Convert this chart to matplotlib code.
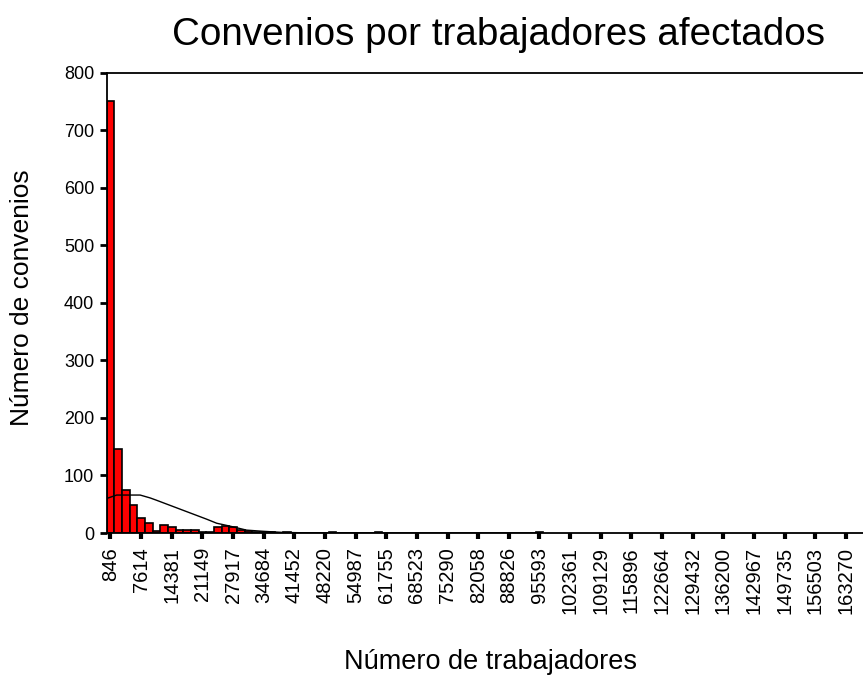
import numpy as np
import matplotlib
matplotlib.use("Agg")
import matplotlib.pyplot as plt

plt.rcParams['font.family'] = ['Liberation Sans', 'DejaVu Sans']

# histogram bins (number of workers), bin width
bin_width = 1691.92
first_center = 846
counts = [752, 146, 75, 49, 26, 17, 4, 14, 11, 6,
          6, 6, 2, 2, 10, 12, 11, 6, 3, 1,
          1, 2, 0, 2, 0, 0, 0, 0, 0, 2,
          0, 0, 0, 0, 0, 2, 0, 0, 0, 0,
          0, 0, 0, 0, 0, 0, 0, 0, 0, 0,
          0, 0, 0, 0, 0, 0, 2]

tick_labels = ["846", "7614", "14381", "21149", "27917", "34684", "41452",
               "48220", "54987", "61755", "68523", "75290", "82058", "88826",
               "95593", "102361", "109129", "115896", "122664", "129432",
               "136200", "142967", "149735", "156503", "163270"]

# fitted normal curve
curve_x = [0, 2200, 7400, 9600, 11000, 14700, 18400, 22100, 24300, 27200,
           30900, 34500, 38900, 45000, 60000]
curve_y = [60, 66, 66, 61, 57, 46, 35, 24, 17, 12, 5, 3, 1, 0.2, 0]

centers = first_center + bin_width * np.arange(len(counts))
tick_pos = first_center + 4 * bin_width * np.arange(len(tick_labels))

fig = plt.figure(figsize=(8.63, 6.77), dpi=100)
ax = fig.add_axes([0.1236, 0.2127, 0.8764, 0.6795])

ax.bar(centers, counts, width=bin_width, color='#ff0000',
       edgecolor='black', linewidth=1.2)
ax.plot(curve_x, curve_y, color='black', linewidth=1.0)

ax.set_xlim(0, 167060)
ax.set_ylim(0, 800)
ax.set_yticks(range(0, 801, 100))
ax.set_xticks(tick_pos)
ax.set_xticklabels(tick_labels, rotation=90, fontsize=14.5)
ax.tick_params(axis='y', labelsize=13, length=5, width=2, pad=4)
ax.tick_params(axis='x', length=4, width=3, pad=6)

for side in ['left', 'top', 'bottom']:
    ax.spines[side].set_linewidth(1.3)
ax.spines['right'].set_visible(False)

fig.text(0.578, 0.948, "Convenios por trabajadores afectados",
         ha='center', va='center', fontsize=27.8)
fig.text(0.026, 0.56, "Número de convenios", rotation=90,
         ha='center', va='center', fontsize=19)
fig.text(0.568, 0.022, "Número de trabajadores",
         ha='center', va='center', fontsize=19.5)

fig.savefig("out.png", dpi=100)
